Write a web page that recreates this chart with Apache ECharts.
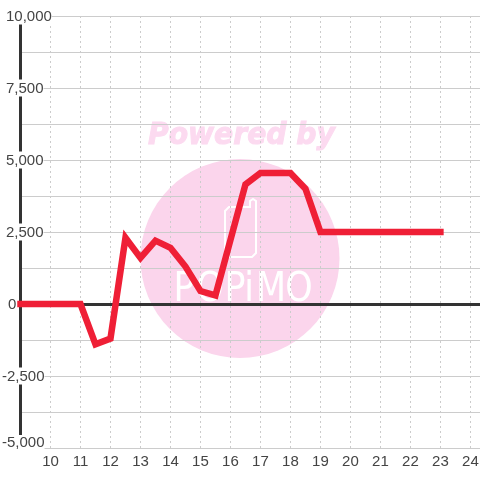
<!DOCTYPE html>
<html>
<head>
<meta charset="utf-8">
<style>
  html, body { margin: 0; padding: 0; background: #fff; }
  #chart { width: 480px; height: 480px; }
</style>
<script src="https://cdn.jsdelivr.net/npm/echarts@6/dist/echarts.min.js"></script>
</head>
<body>
<div id="chart"></div>
<script>
// values
var hours = [9, 10, 11, 11.5, 12, 12.5, 13, 13.5, 14, 14.5, 15, 15.5, 16.5, 17, 18, 18.5, 19, 23];
var values = [0, 0, 0, -1400, -1200, 2300, 1600, 2200, 1950, 1300, 450, 300, 4150, 4550, 4550, 4000, 2500, 2500];
var logoLetters = ['P', 'O', 'P', 'i', 'M', 'O'];
var logoLetterX = [184, 210, 235, 249, 271, 299];

var chart = echarts.init(document.getElementById('chart'));

var labelFont = { fontFamily: 'Liberation Sans', fontSize: 15, color: '#444' };
// tick labels sit at different offsets, same as the original
function tokenStyle(padding) {
  return { padding: padding, backgroundColor: '#fff', lineHeight: 16,
    fontFamily: labelFont.fontFamily, fontSize: labelFont.fontSize, color: labelFont.color };
}

var graphics = [
  { type: 'circle', z: -10, shape: { cx: 240, cy: 258.5, r: 99.5 }, style: { fill: '#fbd5ec' } },
  { type: 'text', z: -10, x: 148, y: 121, scaleX: 0.94, style: { text: 'Powered by', fill: '#fcdaf0',
      stroke: '#fcdaf0', lineWidth: 1, font: 'italic bold 30px "DejaVu Sans"' } },
  { type: 'polyline', z: -9, shape: { points: [[234, 207], [229, 207], [225, 211], [225, 253], [229, 257], [252, 257], [256, 253], [256, 201], [253, 199], [250, 201], [250, 207], [234, 207]] },
    style: { fill: 'none', stroke: '#fff', lineWidth: 2 } }
];
for (var i = 0; i < logoLetters.length; i++) {
  graphics.push({ type: 'text', z: -9, x: logoLetterX[i], y: 290, scaleX: 0.85, style: {
    text: logoLetters[i], fill: '#fff', align: 'center', verticalAlign: 'middle',
    font: '41px "DejaVu Sans"' } });
}

chart.setOption({
  backgroundColor: '#fff',
  animation: false,
  graphic: graphics,
  grid: { left: 20.5, top: 16, width: 459.5, height: 432, containLabel: false, outerBoundsMode: 'none' },
  xAxis: {
    type: 'value',
    min: 9,
    max: 24.32,
    interval: 1,
    axisLine: { show: false },
    axisTick: { show: false },
    axisLabel: {
      margin: 6,
      fontFamily: 'Liberation Sans',
      fontSize: 15,
      color: '#444',
      showMinLabel: false,
      showMaxLabel: false,
      formatter: function (v) { return v >= 10 && v <= 24 ? String(v) : ''; }
    },
    splitLine: { show: true, showMinLine: false, showMaxLine: false,
      lineStyle: { color: '#ccc', width: 1, type: [2, 3] } }
  },
  yAxis: {
    type: 'value',
    min: -5000,
    max: 10000,
    interval: 2500,
    axisLine: { show: true, onZero: false, lineStyle: { color: '#333', width: 3 } },
    axisTick: { show: false },
    minorTick: { show: false, splitNumber: 2 },
    minorSplitLine: { show: true, lineStyle: { color: '#ccc', width: 1 } },
    splitLine: { show: true, lineStyle: { color: '#ccc', width: 1 } },
    axisLabel: {
      align: 'left',
      margin: 18.5,
      hideOverlap: false,
      formatter: function (v) {
        var s = v.toLocaleString('en-US');
        if (v === -5000) return '{low|' + s + '}';
        if (v === 0) return '{zero|' + s + '}';
        if (v < 0) return '{neg|' + s + '}';
        return '{pos|' + s + '}';
      },
      rich: {
        pos: tokenStyle([2, 0, 0, 4]),
        neg: tokenStyle([2, 0, 0, 0]),
        low: tokenStyle([0, 0, 11, 0]),
        zero: tokenStyle([2, 0, 0, 6])
      }
    }
  },
  series: [{
    type: 'line',
    data: hours.map(function (h, i) { return [h, values[i]]; }),
    showSymbol: false,
    smooth: false,
    clip: false,
    z: 5,
    lineStyle: { color: '#ef1f36', width: 6.5, cap: 'square', join: 'miter' },
    markLine: {
      silent: true,
      symbol: 'none',
      label: { show: false },
      z: 3,
      lineStyle: { color: '#333', width: 3, type: 'solid' },
      data: [{ yAxis: 0 }]
    }
  }]
});
</script>
</body>
</html>
